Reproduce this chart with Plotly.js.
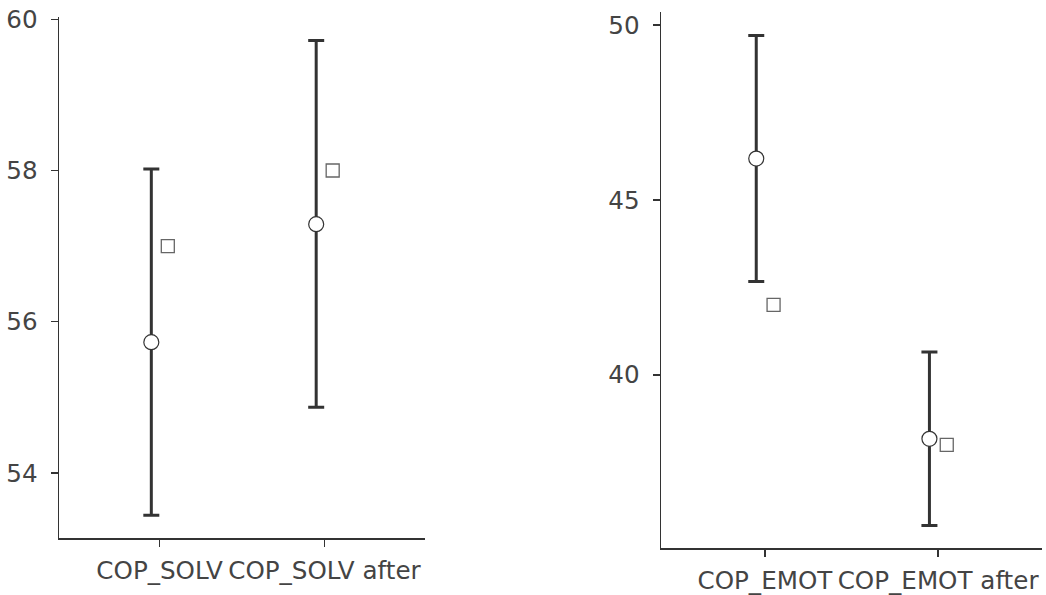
<!DOCTYPE html>
<html>
<head>
<meta charset="utf-8">
<script src="https://cdn.plot.ly/plotly-3.0.1.min.js"></script>
<style>html,body{margin:0;padding:0;background:#fff;}#chart{width:1046px;height:595px;}</style>
</head>
<body>
<div id="chart"></div>
<script>
// ---- data ----
const solvCategories = ["COP_SOLV", "COP_SOLV after"];
const solvMean = [55.73, 57.29];
const solvCiLow = [53.44, 54.87];
const solvCiHigh = [58.02, 59.72];
const solvMedian = [57, 58];

const emotCategories = ["COP_EMOT", "COP_EMOT after"];
const emotMean = [46.18, 38.17];
const emotCiLow = [42.67, 35.69];
const emotCiHigh = [49.70, 40.65];
const emotMedian = [42, 38];

const solvTicks = [54, 56, 58, 60];
const emotTicks = [40, 45, 50];

// ---- style ----
const OFF = 0.05;
const dark = '#333333';
const textColor = '#444444';
const font = {family: 'DejaVu Sans', size: 24.6, color: textColor};

function idx(arr, d) { return arr.map((_, i) => i + d); }

function panel(cats, mean, lo, hi, med, xa, ya) {
  return [
    {
      type: 'scatter', mode: 'markers', xaxis: xa, yaxis: ya,
      x: idx(cats, -OFF), y: mean,
      error_y: {
        type: 'data', symmetric: false,
        array: hi.map((h, i) => h - mean[i]),
        arrayminus: lo.map((l, i) => mean[i] - l),
        color: dark, thickness: 3, width: 8
      },
      marker: {symbol: 'circle', size: 15, color: '#ffffff', line: {color: dark, width: 1.2}},
      hoverinfo: 'skip', showlegend: false
    },
    {
      type: 'scatter', mode: 'markers', xaxis: xa, yaxis: ya,
      x: idx(cats, OFF), y: med,
      marker: {symbol: 'square', size: 13, color: '#ffffff', line: {color: '#666666', width: 1.3}},
      hoverinfo: 'skip', showlegend: false
    }
  ];
}

const data = [
  ...panel(solvCategories, solvMean, solvCiLow, solvCiHigh, solvMedian, 'x', 'y'),
  ...panel(emotCategories, emotMean, emotCiLow, emotCiHigh, emotMedian, 'x2', 'y2')
];

const axisCommon = {
  showgrid: false, zeroline: false, showline: true, linecolor: dark, linewidth: 1.5,
  ticks: 'outside', ticklen: 7, tickwidth: 1.5, tickcolor: dark,
  tickfont: font, automargin: false, fixedrange: true
};

const layout = {
  width: 1046, height: 595,
  margin: {l: 0, r: 0, t: 0, b: 0},
  paper_bgcolor: '#ffffff', plot_bgcolor: '#ffffff',
  showlegend: false,
  xaxis: Object.assign({}, axisCommon, {
    domain: [59/1046, 425/1046], range: [-0.61, 1.61],
    tickvals: solvCategories.map((_, i) => i), ticktext: solvCategories,
    tickangle: 0, anchor: 'y', ticklabelstandoff: 3
  }),
  yaxis: Object.assign({}, axisCommon, {
    domain: [(595-538)/595, (595-17)/595], range: [53.14, 60.03],
    tickvals: solvTicks, ticktext: solvTicks.map(String), anchor: 'x',
    ticklabelstandoff: 8
  }),
  xaxis2: Object.assign({}, axisCommon, {
    domain: [661/1046, 1042/1046], range: [-0.6, 1.6],
    tickvals: emotCategories.map((_, i) => i), ticktext: emotCategories,
    tickangle: 0, anchor: 'y2', ticklabelstandoff: 3
  }),
  yaxis2: Object.assign({}, axisCommon, {
    domain: [(595-548)/595, (595-12)/595], range: [35.05, 50.37],
    tickvals: emotTicks, ticktext: emotTicks.map(String), anchor: 'x2',
    ticklabelstandoff: 8
  })
};

Plotly.newPlot('chart', data, layout, {displayModeBar: false, staticPlot: true});
</script>
</body>
</html>
